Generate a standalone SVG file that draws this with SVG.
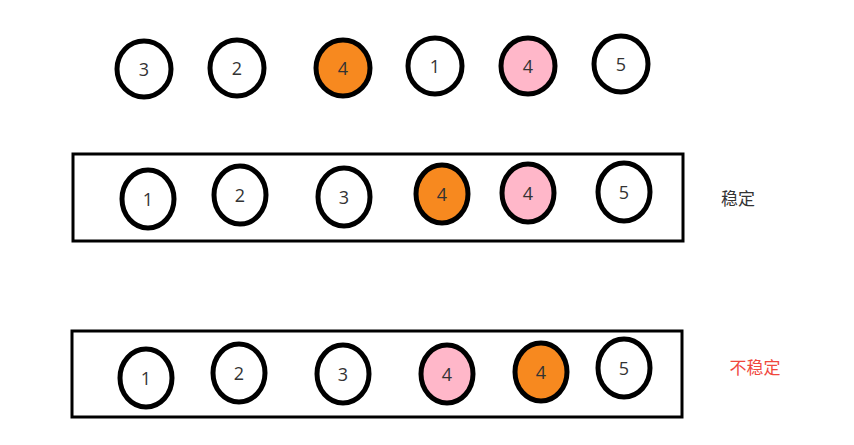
<svg xmlns="http://www.w3.org/2000/svg" width="854" height="445" viewBox="0 0 854 445">
<style>
.b{fill:#fff;stroke:#000;stroke-width:5}
.o{fill:#f7891f;stroke:#000;stroke-width:5}
.p{fill:#ffb7c9;stroke:#000;stroke-width:5}
.box{fill:none;stroke:#000;stroke-width:3}
.t{font-family:"Open Sans","Liberation Sans",sans-serif;font-size:18px;fill:#333;text-anchor:middle;dominant-baseline:central}
.c{font-family:"Noto Sans CJK SC",sans-serif;font-size:17px;text-anchor:middle;dominant-baseline:central}
</style>
<rect width="854" height="445" fill="#fff"/>
<g id="row1">
<g id="r1n1"><ellipse class="b" cx="144" cy="69" rx="27" ry="28"/><text class="t" x="144" y="69">3</text></g>
<g id="r1n2"><ellipse class="b" cx="237" cy="68" rx="27" ry="28"/><text class="t" x="237" y="68">2</text></g>
<g id="r1n3"><ellipse class="o" cx="343" cy="68" rx="27" ry="28"/><text class="t" x="343" y="68">4</text></g>
<g id="r1n4"><ellipse class="b" cx="435" cy="66" rx="27" ry="28"/><text class="t" x="435" y="66">1</text></g>
<g id="r1n5"><ellipse class="p" cx="528" cy="66" rx="27" ry="28"/><text class="t" x="528" y="66">4</text></g>
<g id="r1n6"><ellipse class="b" cx="621" cy="64" rx="27" ry="28"/><text class="t" x="621" y="64">5</text></g>
</g>
<g id="row2">
<rect class="box" x="73" y="154" width="610" height="87"/>
<g id="r2n1"><ellipse class="b" cx="148" cy="199" rx="26" ry="29"/><text class="t" x="148" y="199">1</text></g>
<g id="r2n2"><ellipse class="b" cx="240" cy="195" rx="26" ry="29"/><text class="t" x="240" y="195">2</text></g>
<g id="r2n3"><ellipse class="b" cx="344" cy="197" rx="26" ry="29"/><text class="t" x="344" y="197">3</text></g>
<g id="r2n4"><ellipse class="o" cx="442" cy="194" rx="26" ry="29"/><text class="t" x="442" y="194">4</text></g>
<g id="r2n5"><ellipse class="p" cx="528" cy="193" rx="26" ry="29"/><text class="t" x="528" y="193">4</text></g>
<g id="r2n6"><ellipse class="b" cx="624" cy="192" rx="26" ry="29"/><text class="t" x="624" y="192">5</text></g>
<text class="c" x="738" y="197" fill="#333">稳定</text>
</g>
<g id="row3">
<rect class="box" x="72" y="331" width="610" height="86"/>
<g id="r3n1"><ellipse class="b" cx="146" cy="378" rx="26" ry="29"/><text class="t" x="146" y="378">1</text></g>
<g id="r3n2"><ellipse class="b" cx="239" cy="373" rx="26" ry="29"/><text class="t" x="239" y="373">2</text></g>
<g id="r3n3"><ellipse class="b" cx="343" cy="374" rx="26" ry="29"/><text class="t" x="343" y="374">3</text></g>
<g id="r3n4"><ellipse class="p" cx="447" cy="374" rx="26" ry="29"/><text class="t" x="447" y="374">4</text></g>
<g id="r3n5"><ellipse class="o" cx="541" cy="372" rx="26" ry="29"/><text class="t" x="541" y="372">4</text></g>
<g id="r3n6"><ellipse class="b" cx="624" cy="368" rx="26" ry="29"/><text class="t" x="624" y="368">5</text></g>
<text class="c" x="755" y="366" fill="#f0483e">不稳定</text>
</g>
</svg>
